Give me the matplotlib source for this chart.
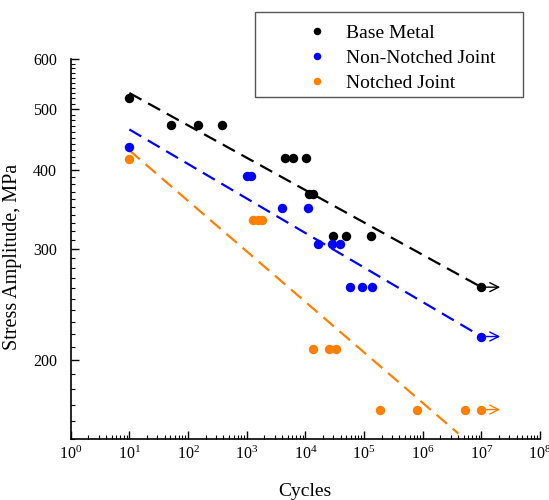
import matplotlib
matplotlib.use("Agg")
import matplotlib.pyplot as plt
from matplotlib.ticker import FixedLocator, LogLocator, NullFormatter, FixedFormatter
from matplotlib.patches import Rectangle
import numpy as np

plt.rcParams['font.family'] = ['Liberation Serif', 'DejaVu Serif']
plt.rcParams['mathtext.fontset'] = 'custom'
plt.rcParams['mathtext.rm'] = 'Liberation Serif'
plt.rcParams['mathtext.it'] = 'Liberation Serif:italic'

# Data
base_N = [10, 52, 146, 375, 4500, 6240, 10260, 11700, 13700, 29200, 48800, 131700, 1e7]
base_S = [520, 472, 472, 472, 418, 418, 418, 366, 366, 314, 314, 314, 261]

nonnotched_N = [10, 1000, 1170, 3950, 11000, 16300, 28000, 39000, 57900, 92500, 135000, 1e7]
nonnotched_S = [436, 392, 392, 349, 349, 305, 305, 305, 261, 261, 261, 218]

notched_N = [10, 1300, 1550, 1800, 13300, 25600, 33300, 190000, 800000, 5.3e6, 1e7]
notched_S = [417, 333, 333, 333, 208, 208, 208, 167, 167, 167, 167]

# Trend lines (endpoints)
base_fit_N = [10, 1e7]
base_fit_S = [530, 261]
nonnotched_fit_N = [10, 1e7]
nonnotched_fit_S = [464, 218]
notched_fit_N = [10, 4.06e6]
notched_fit_S = [430, 153]

# Run-outs
runout_N = 1e7
runout_end_N = 2.1e7
runout_S = [261, 218, 167]

labels = ['Base Metal', 'Non-Notched Joint', 'Notched Joint']
colors = ['black', '#0000ff', '#ff8000']

yticks_major = [200, 300, 400, 500, 600]

fig = plt.figure(figsize=(5.49, 5.0), dpi=100)
ax = fig.add_axes([0.1288, 0.122, 0.9836 - 0.1288, 0.882 - 0.122])
ax.set_xscale('log')
ax.set_yscale('log')

series = [(base_N, base_S, base_fit_N, base_fit_S),
          (nonnotched_N, nonnotched_S, nonnotched_fit_N, nonnotched_fit_S),
          (notched_N, notched_S, notched_fit_N, notched_fit_S)]

handles = []
for (N, S, fN, fS), c, lab in zip(series, colors, labels):
    ax.plot(fN, fS, color=c, lw=1.6, dashes=(6.2, 3.4), zorder=2)
    h, = ax.plot(N, S, 'o', color=c, ms=6.8, mec='none', zorder=3, label=lab)
    handles.append(h)

for s, c in zip(runout_S, colors):
    ax.annotate('', xy=(runout_end_N, s), xytext=(runout_N, s),
                arrowprops=dict(arrowstyle='->', color=c, lw=1.0,
                                shrinkA=0, shrinkB=0, mutation_scale=16))

ax.set_xlim(1, 1e8)
ax.set_ylim(150, 600)

ax.xaxis.set_major_locator(LogLocator(base=10, numticks=20))
ax.xaxis.set_minor_locator(LogLocator(base=10, subs=np.arange(2, 10), numticks=20))
ax.xaxis.set_minor_formatter(NullFormatter())

ax.yaxis.set_major_locator(FixedLocator(yticks_major))
ax.yaxis.set_major_formatter(FixedFormatter([str(v) for v in yticks_major]))
ax.yaxis.set_minor_locator(FixedLocator([v for v in range(150, 601, 10) if v not in yticks_major]))
ax.yaxis.set_minor_formatter(NullFormatter())

ax.spines['top'].set_visible(False)
ax.spines['right'].set_visible(False)
for sp in ['left', 'bottom']:
    ax.spines[sp].set_linewidth(1.2)

ax.tick_params(which='major', direction='in', length=6, width=1.0, labelsize=11.5)
ax.tick_params(which='minor', direction='in', length=3, width=0.8)
ax.tick_params(axis='x', which='major', pad=5)
ax.tick_params(axis='y', which='major', pad=10)

ax.set_xlabel('Cycles', fontsize=14)
ax.set_ylabel('Stress Amplitude, MPa', fontsize=14.5)
ax.xaxis.set_label_coords(0.5, -0.115)
ax.yaxis.set_label_coords(-0.104, 0.48)

# legend frame
fig.patches.append(Rectangle((255 / 549, 1 - 97 / 500), (523 - 255) / 549, (97 - 12) / 500,
                             transform=fig.transFigure, facecolor='white',
                             edgecolor='#555555', lw=1.0, zorder=5))
leg = fig.legend(handles=handles, labels=labels, loc='upper left',
                 bbox_to_anchor=(307 / 549, 1 - 24 / 500), fontsize=14, frameon=False,
                 markerscale=0.8, handletextpad=1.0, borderpad=0.0, borderaxespad=0.0,
                 labelspacing=0.38, handlelength=1.0)
leg.set_zorder(6)

fig.savefig('out.png', dpi=100)
